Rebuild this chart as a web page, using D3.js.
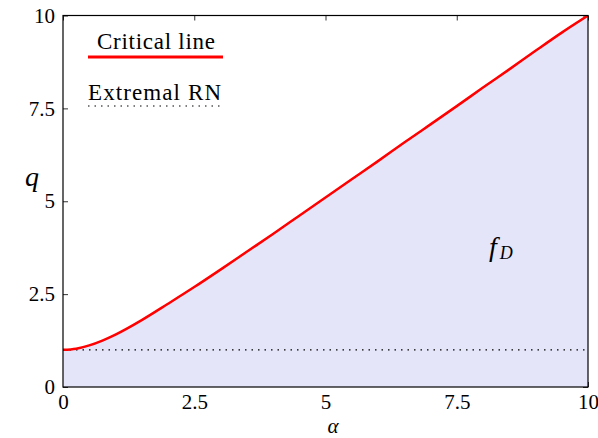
<!DOCTYPE html>
<html>
<head>
<meta charset="utf-8">
<script src="https://cdn.jsdelivr.net/npm/d3@7"></script>
<style>
  html, body { margin: 0; padding: 0; background: #fff; }
  svg { display: block; }
</style>
</head>
<body>
<svg id="chart" width="598" height="438"></svg>
<script>
// Critical line q(α) sampled along α
const alpha     = [0, 0.25, 0.5, 0.75, 1, 1.5, 2, 2.5, 3, 3.5, 4, 4.5, 5, 5.5, 6, 6.5, 7, 7.5, 8, 8.5, 9, 9.5, 10];
const qCritical = [1.00, 1.03, 1.12, 1.25, 1.41, 1.80, 2.24, 2.69, 3.16, 3.64, 4.12, 4.61, 5.10, 5.59, 6.08, 6.58, 7.07, 7.56, 8.06, 8.55, 9.05, 9.54, 10.0];
// Extremal RN level
const qExtremal = 1;
// Axis ticks
const xTicks = [0, 2.5, 5, 7.5, 10];
const yTicks = [0, 2.5, 5, 7.5, 10];
const tickLabels = ["0", "2.5", "5", "7.5", "10"];
// Legend entries
const legendLabels = ["Critical line", "Extremal RN"];

const FONT = "'Liberation Serif', 'Times New Roman', serif";
const svg = d3.select("#chart");
const mLeft = 63, mRight = 588, mTop = 15.5, mBottom = 387;

const x = d3.scaleLinear().domain([0, 10]).range([mLeft, mRight]);
const y = d3.scaleLinear().domain([0, 10]).range([mBottom, mTop]);
const fmt = d => tickLabels[xTicks.indexOf(d)];

// Inward ticks on all four sides
const axB = svg.append("g").attr("transform", `translate(0,${mBottom})`)
  .call(d3.axisBottom(x).tickValues(xTicks).tickFormat(fmt).tickSizeInner(-5).tickSizeOuter(0).tickPadding(7));
const axT = svg.append("g").attr("transform", `translate(0,${mTop})`)
  .call(d3.axisTop(x).tickValues(xTicks).tickFormat("").tickSizeInner(-5).tickSizeOuter(0));
const axL = svg.append("g").attr("transform", `translate(${mLeft},0)`)
  .call(d3.axisLeft(y).tickValues(yTicks).tickFormat(d => tickLabels[yTicks.indexOf(d)]).tickSizeInner(-5).tickSizeOuter(0).tickPadding(8));
const axR = svg.append("g").attr("transform", `translate(${mRight},0)`)
  .call(d3.axisRight(y).tickValues(yTicks).tickFormat("").tickSizeInner(-5).tickSizeOuter(0));
[axB, axT, axL, axR].forEach(g => {
  g.attr("font-family", FONT);
  g.select(".domain").remove();
  g.selectAll(".tick line").attr("stroke", "#333").attr("stroke-width", 1);
  g.selectAll(".tick text").attr("fill", "#000")
    .style("font-family", FONT).style("font-size", "21px");
});
axB.selectAll(".tick text").attr("dy", "0.71em");

const pts = alpha.map((a, i) => [a, qCritical[i]]);

svg.append("clipPath").attr("id", "plotClip")
  .append("rect").attr("x", mLeft).attr("y", mTop).attr("width", mRight - mLeft).attr("height", mBottom - mTop);

const plot = svg.append("g").attr("clip-path", "url(#plotClip)");

// Region f_D below the critical line
plot.append("path")
  .datum(pts)
  .attr("fill", "#e5e5fa")
  .attr("d", d3.area().x(d => x(d[0])).y0(y(0)).y1(d => y(d[1])).curve(d3.curveMonotoneX));

// Extremal RN
plot.append("line")
  .attr("x1", x(0)).attr("x2", x(10))
  .attr("y1", y(qExtremal)).attr("y2", y(qExtremal))
  .attr("stroke", "#000").attr("stroke-width", 1.2)
  .attr("stroke-dasharray", "1.5,5");

// Critical line
plot.append("path")
  .datum(pts)
  .attr("fill", "none")
  .attr("stroke", "#ff0000")
  .attr("stroke-width", 2.5)
  .attr("d", d3.line().x(d => x(d[0])).y(d => y(d[1])).curve(d3.curveMonotoneX));

// Frame
svg.append("rect")
  .attr("x", mLeft).attr("y", mTop).attr("width", mRight - mLeft).attr("height", mBottom - mTop)
  .attr("fill", "none").attr("stroke", "#000").attr("stroke-width", 1.2);

// Legend
const lg = svg.append("g").attr("font-family", FONT);
lg.append("text").attr("x", 97).attr("y", 49).attr("textLength", 118).attr("lengthAdjust", "spacing")
  .style("font-family", FONT).style("font-size", "23px").text(legendLabels[0]);
lg.append("line").attr("x1", 88).attr("x2", 223).attr("y1", 57).attr("y2", 57)
  .attr("stroke", "#ff0000").attr("stroke-width", 3);
lg.append("text").attr("x", 88).attr("y", 100).attr("textLength", 133).attr("lengthAdjust", "spacing")
  .style("font-family", FONT).style("font-size", "23px").text(legendLabels[1]);
lg.append("line").attr("x1", 88).attr("x2", 221).attr("y1", 106).attr("y2", 106)
  .attr("stroke", "#000").attr("stroke-width", 1.2).attr("stroke-dasharray", "1.5,5");

// Axis labels
svg.append("text").attr("x", 333).attr("y", 433).attr("text-anchor", "middle")
  .style("font-family", FONT).style("font-style", "italic").style("font-size", "21px")
  .text("α");
svg.append("text").attr("x", 32).attr("y", 186).attr("text-anchor", "middle")
  .style("font-family", FONT).style("font-style", "italic").style("font-size", "28px")
  .text("q");

// Region label f_D
const fd = svg.append("text").attr("x", 489).attr("y", 256)
  .style("font-family", FONT).style("font-style", "italic").style("font-size", "28px");
fd.append("tspan").text("f");
fd.append("tspan").style("font-size", "18px").attr("dy", 3).attr("dx", 3).text("D");
</script>
</body>
</html>
